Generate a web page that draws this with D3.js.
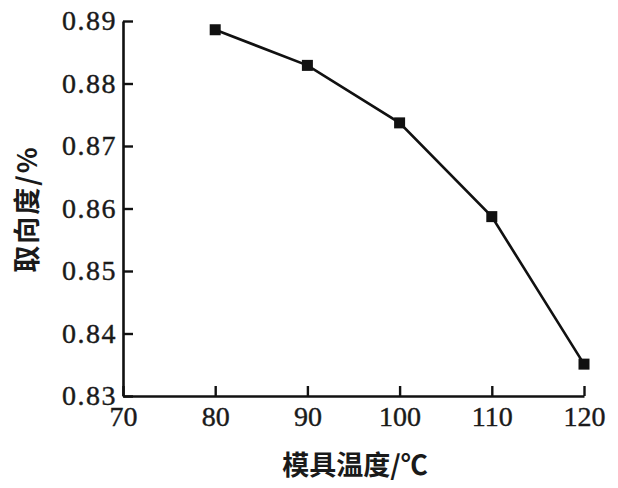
<!DOCTYPE html>
<html>
<head>
<meta charset="utf-8">
<script src="https://cdn.jsdelivr.net/npm/d3@7"></script>
<style>
  html, body { margin: 0; padding: 0; background: #fff; }
  svg { display: block; }
</style>
</head>
<body>
<svg id="chart" width="618" height="488"></svg>
<script>
const temperatures = [80, 90, 100, 110, 120];
const orientation = [0.8886, 0.8829, 0.8737, 0.8587, 0.8351];
const xTicks = [70, 80, 90, 100, 110, 120];
const yTicks = [0.83, 0.84, 0.85, 0.86, 0.87, 0.88, 0.89];
const xTitle = "模具温度/℃";
const yTitle = "取向度/%";

(function () {
const svg = d3.select("#chart");
const mLeft = 123, mRight = 584, mTop = 21, mBottom = 396;

const x = d3.scaleLinear().domain([70, 120]).range([mLeft, mRight]);
const y = d3.scaleLinear().domain([0.83, 0.89]).range([mBottom, mTop]);

const serif = "Liberation Serif";
const cjk = "Noto Sans CJK SC";

// Y axis
const yAxis = svg.append("g")
  .attr("transform", `translate(${mLeft},0)`)
  .call(d3.axisLeft(y).tickValues(yTicks).tickFormat(d3.format(".2f"))
        .tickSizeInner(-10).tickSizeOuter(0).tickPadding(6))
  .attr("font-family", serif)
  .attr("font-size", 28);
yAxis.select(".domain").attr("stroke", "#111").attr("stroke-width", 2.6);
yAxis.selectAll(".tick line").attr("stroke", "#111").attr("stroke-width", 2.4);
yAxis.selectAll(".tick text")
  .attr("fill", "#1a1a1a")
  .attr("stroke", "#1a1a1a")
  .attr("stroke-width", 0.4)
  .attr("letter-spacing", 1.5);

// X axis
const xAxis = svg.append("g")
  .attr("transform", `translate(0,${mBottom})`)
  .call(d3.axisBottom(x).tickValues(xTicks).tickFormat(d3.format("d"))
        .tickSizeInner(-10).tickSizeOuter(0).tickPadding(10))
  .attr("font-family", serif)
  .attr("font-size", 28);
xAxis.select(".domain").attr("stroke", "#111").attr("stroke-width", 2.6);
xAxis.selectAll(".tick line").attr("stroke", "#111").attr("stroke-width", 2.4);
xAxis.selectAll(".tick text")
  .attr("fill", "#1a1a1a")
  .attr("stroke", "#1a1a1a")
  .attr("stroke-width", 0.4);

// Line
const pts = temperatures.map((t, i) => [t, orientation[i]]);
svg.append("path")
  .datum(pts)
  .attr("fill", "none")
  .attr("stroke", "#111")
  .attr("stroke-width", 2.6)
  .attr("d", d3.line().x(d => x(d[0])).y(d => y(d[1])));

// Markers
const ms = 11;
svg.append("g").selectAll("rect")
  .data(pts)
  .join("rect")
  .attr("x", d => x(d[0]) - ms / 2)
  .attr("y", d => y(d[1]) - ms / 2)
  .attr("width", ms)
  .attr("height", ms)
  .attr("fill", "#111");

// Titles
svg.append("text")
  .attr("x", 355)
  .attr("y", 463)
  .attr("text-anchor", "middle")
  .attr("dominant-baseline", "central")
  .attr("fill", "#1a1a1a")
  .attr("font-family", cjk)
  .attr("font-weight", 700)
  .attr("font-size", 27)
  .text(xTitle);

svg.append("text")
  .attr("transform", "translate(25,209) rotate(-90)")
  .attr("text-anchor", "middle")
  .attr("dominant-baseline", "central")
  .attr("fill", "#1a1a1a")
  .attr("font-family", cjk)
  .attr("font-weight", 700)
  .attr("font-size", 27)
  .attr("letter-spacing", 2)
  .text(yTitle);
})();
</script>
</body>
</html>
